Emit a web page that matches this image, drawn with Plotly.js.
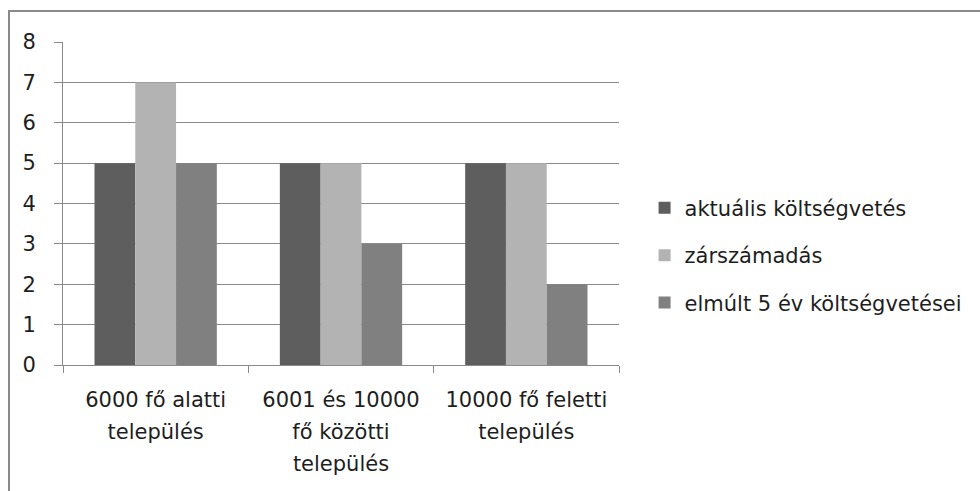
<!DOCTYPE html>
<html>
<head>
<meta charset="utf-8">
<script src="https://cdn.plot.ly/plotly-3.0.1.min.js"></script>
<style>
  html, body { margin: 0; padding: 0; overflow: hidden; background: #fff; }
  #frame { position: absolute; left: 8px; top: 10px; width: 1100px; height: 700px; border: 2px solid #8a8a8a; box-sizing: border-box; pointer-events: none; z-index: 5; }
  #chart { position: absolute; left: 0; top: 0; width: 980px; height: 491px; }
</style>
</head>
<body>
<div id="chart"></div>
<div id="frame"></div>
<script>
const categories = ["6000 fő alatti<br>település", "6001 és 10000<br>fő közötti<br>település", "10000 fő feletti<br>település"];
const seriesNames = ["aktuális költségvetés", "zárszámadás", "elmúlt 5 év költségvetései"];
const aktualis = [5, 5, 5];
const zarszamadas = [7, 5, 5];
const elmult5 = [5, 3, 2];
const yTicks = [0, 1, 2, 3, 4, 5, 6, 7, 8];

const colors = ["#5e5e5e", "#b3b3b3", "#808080"];
const FONT = "DejaVu Sans";
const values = [aktualis, zarszamadas, elmult5];

const catIds = categories.map((c, i) => "c" + i);
const tickText = categories.map(c => c.split("<br>").map(s => '<span style="font-size:21px">' + s + '</span>').join("<br>"));

const traces = values.map((v, i) => ({
  type: "bar",
  name: seriesNames[i],
  x: catIds,
  y: v,
  marker: { color: colors[i], line: { width: 0 } },
  legendgroup: "g" + i,
  hoverinfo: "skip"
}));

const layout = {
  width: 980,
  height: 491,
  margin: { l: 63, r: 359, t: 42, b: 126 },
  paper_bgcolor: "#ffffff",
  plot_bgcolor: "#ffffff",
  barmode: "group",
  bargap: 0.34,
  bargroupgap: 0,
  font: { family: FONT, size: 21, color: "#1e1e1e" },
  showlegend: true,
  legend: {
    x: 1.046, xanchor: "left",
    y: 0.34, yanchor: "middle",
    traceorder: "grouped",
    tracegroupgap: 17,
    font: { family: FONT, size: 21, color: "#1e1e1e" },
    bgcolor: "rgba(0,0,0,0)"
  },
  xaxis: {
    type: "category",
    tickmode: "array",
    tickvals: catIds,
    ticktext: tickText,
    tickson: "boundaries",
    ticks: "outside",
    ticklen: 7,
    tickcolor: "#8a8a8a",
    tickwidth: 1,
    showline: true,
    linecolor: "#8a8a8a",
    linewidth: 1,
    showgrid: false,
    tickfont: { family: FONT, size: 24.5, color: "#1e1e1e" },
    ticklabelstandoff: 12,
    zeroline: false,
    fixedrange: true
  },
  yaxis: {
    range: [0, 8],
    tickmode: "array",
    tickvals: yTicks,
    ticktext: yTicks.map(String),
    ticks: "outside",
    ticklen: 8,
    tickcolor: "#8a8a8a",
    tickwidth: 1,
    showline: true,
    linecolor: "#8a8a8a",
    linewidth: 1,
    showgrid: true,
    gridcolor: "#8a8a8a",
    gridwidth: 1,
    zeroline: false,
    tickfont: { family: FONT, size: 21, color: "#1e1e1e" },
    ticklabelstandoff: 14,
    fixedrange: true
  }
};

Plotly.newPlot("chart", traces, layout, { staticPlot: true, displayModeBar: false });
</script>
</body>
</html>
